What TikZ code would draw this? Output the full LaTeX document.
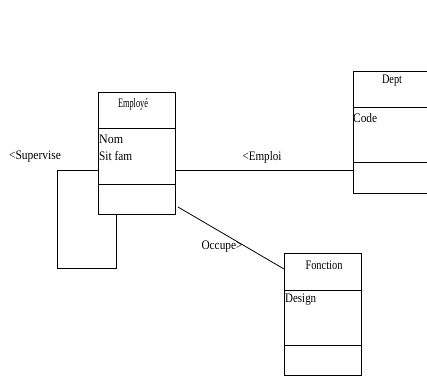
\documentclass[tikz,border=0pt]{standalone}
\usepackage{fontspec}
\setmainfont{Liberation Serif}
\newcommand{\fw}[2]{\resizebox{#1pt}{\height}{#2}}
\begin{document}
\begin{tikzpicture}[x=1pt,y=-1pt,
  line/.style={draw=black, line width=0.8pt},
  lbl/.style={inner sep=0pt, font=\fontsize{13}{14}\selectfont},
  boxline/.style={draw=black, line width=0.8pt}]
\useasboundingbox (0,0) rectangle (427,376);
\clip (0,0) rectangle (427,376);
% Employe
\node[boxline, minimum width=77pt, minimum height=122pt, inner sep=0pt, anchor=north west] (emp) at (98,92) {};
\draw[boxline] (98,128) -- (175,128);
\draw[boxline] (98,184) -- (175,184);
\node[lbl] (empt) at (133,104) {\fw{30}{Employé}};
\node[lbl, anchor=west] (nom) at (99,139) {\fw{24}{Nom}};
\node[lbl, anchor=west] (sit) at (99,156) {\fw{33}{Sit fam}};
% Dept
\node[boxline, minimum width=77pt, minimum height=122pt, inner sep=0pt, anchor=north west] (dept) at (353,71) {};
\draw[boxline] (353,107) -- (430,107);
\draw[boxline] (353,162) -- (430,162);
\node[lbl] (deptt) at (392,81) {\fw{20}{Dept}};
\node[lbl, anchor=west] (code) at (353,118) {\fw{24}{Code}};
% Fonction
\node[boxline, minimum width=77pt, minimum height=122pt, inner sep=0pt, anchor=north west] (fon) at (284,253) {};
\draw[boxline] (284,290) -- (361,290);
\draw[boxline] (284,345) -- (361,345);
\node[lbl] (font) at (324,265) {\fw{37}{Fonction}};
\node[lbl, anchor=west] (des) at (285,300) {\fw{31}{Design}};
% connectors
\coordinate (s1) at (98,170);
\coordinate (s2) at (57,170);
\coordinate (s3) at (57,268);
\coordinate (s4) at (116,268);
\coordinate (s5) at (116,214);
\draw[line] (s1) -- (s2) -- (s3) -- (s4) -- (s5);
\coordinate (e1) at (175,170);
\coordinate (e2) at (353,170);
\draw[line] (e1) -- (e2);
\coordinate (o1) at (178,207);
\coordinate (o2) at (284,269);
\draw[line] (o1) -- (o2);
% labels
\node[lbl] (sup) at (35,157) {\fw{52}{<Supervise}};
\node[lbl] (empl) at (262,157) {\fw{39}{<Emploi}};
\node[lbl] (occ) at (222,247) {\fw{41}{Occupe>}};
\end{tikzpicture}
\end{document}
